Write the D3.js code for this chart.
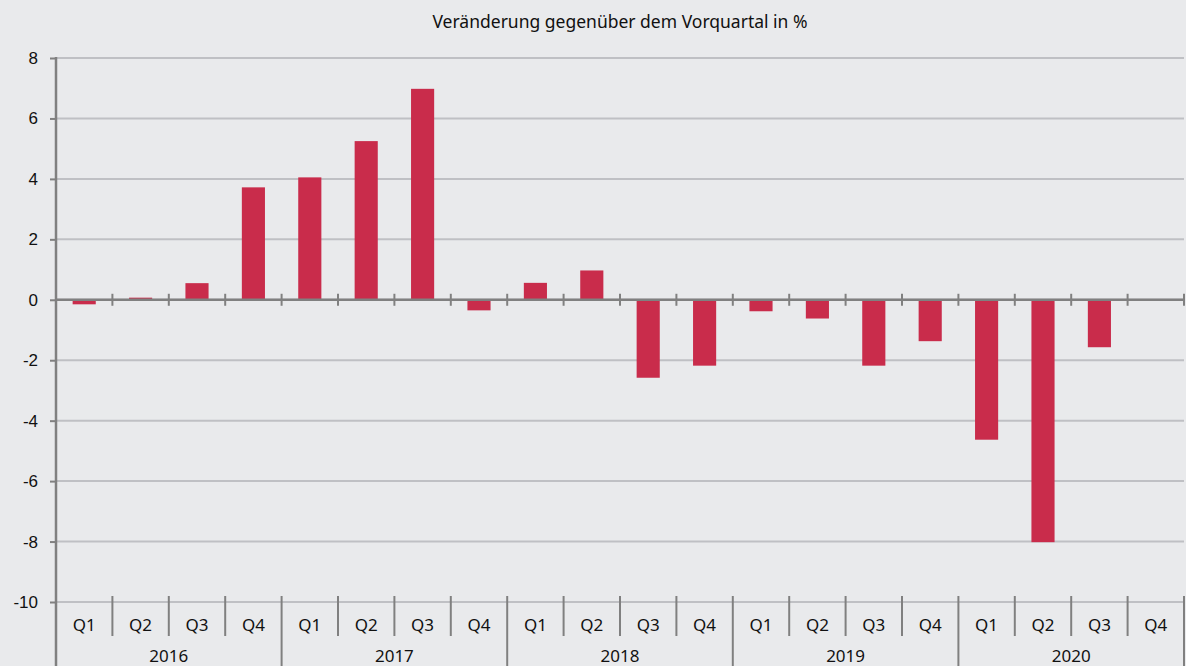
<!DOCTYPE html>
<html>
<head>
<meta charset="utf-8">
<script src="https://cdn.jsdelivr.net/npm/d3@7"></script>
<style>
  body { margin: 0; background: #e9eaec; }
  svg { display: block; font-family: "Noto Sans", "Open Sans", sans-serif; }
</style>
</head>
<body>
<svg id="chart"></svg>
<script>
const years = ["2016", "2017", "2018", "2019", "2020"];
const quarters = ["Q1", "Q2", "Q3", "Q4"];
const values = [
  -0.15, 0.07, 0.55, 3.72,
  4.05, 5.25, 6.98, -0.35,
  0.56, 0.97, -2.58, -2.18,
  -0.38, -0.62, -2.18, -1.37,
  -4.63, -8.02, -1.57, null
];
const yTicks = [8, 6, 4, 2, 0, -2, -4, -6, -8, -10];
const title = "Veränderung gegenüber dem Vorquartal in %";

const W = 1186, H = 666;
const m = { left: 56, right: 2, top: 58, bottom: 64 };

const svg = d3.select("#chart").attr("width", W).attr("height", H);
svg.append("rect").attr("width", W).attr("height", H).attr("fill", "#e9eaec");

// one entry per quarter
const cats = [];
years.forEach(y => quarters.forEach(q => cats.push({ year: y, q: q, key: y + q })));
cats.forEach((c, i) => c.value = values[i]);

const x = d3.scaleBand()
  .domain(cats.map(c => c.key))
  .range([m.left, W - m.right])
  .paddingInner(0).paddingOuter(0);

const y = d3.scaleLinear()
  .domain([-10, 8])
  .range([H - m.bottom, m.top]);

// gridlines
svg.append("g")
  .selectAll("line")
  .data(yTicks)
  .join("line")
    .attr("x1", m.left).attr("x2", W - m.right)
    .attr("y1", d => y(d)).attr("y2", d => y(d))
    .attr("stroke", "#bfc0c4")
    .attr("stroke-width", 2);

// bars
const bw = x.bandwidth() * 0.41;
svg.append("g")
  .selectAll("rect")
  .data(cats.filter(c => c.value != null))
  .join("rect")
    .attr("x", d => x(d.key) + (x.bandwidth() - bw) / 2)
    .attr("width", bw)
    .attr("y", d => y(Math.max(0, d.value)))
    .attr("height", d => Math.abs(y(d.value) - y(0)))
    .attr("fill", "#c92c4b");

// zero line with tick marks at category boundaries
svg.append("line")
  .attr("x1", m.left).attr("x2", W - m.right)
  .attr("y1", y(0)).attr("y2", y(0))
  .attr("stroke", "#808080").attr("stroke-width", 2.5);
svg.append("g")
  .selectAll("line")
  .data(cats.slice(1).map(c => x(c.key)).concat([W - m.right]))
  .join("line")
    .attr("x1", d => d).attr("x2", d => d)
    .attr("y1", y(0) - 6).attr("y2", y(0) + 6)
    .attr("stroke", "#808080").attr("stroke-width", 2);

// y axis
const yAxis = d3.axisLeft(y).tickValues(yTicks).tickSize(6).tickPadding(12).tickFormat(d3.format("d"));
const gy = svg.append("g")
  .attr("transform", `translate(${m.left},0)`)
  .call(yAxis);
gy.select(".domain").remove();
gy.selectAll(".tick line").attr("stroke", "#808080").attr("stroke-width", 2);
gy.selectAll(".tick text").attr("fill", "#111").attr("font-size", 17).text(d => d < 0 ? "-" + Math.abs(d) : d);
svg.append("line")
  .attr("x1", m.left).attr("x2", m.left)
  .attr("y1", y(8) - 1).attr("y2", H)
  .attr("stroke", "#808080").attr("stroke-width", 2.5);

// category axis: quarter separators and labels
const yBase = y(-10);
svg.append("g")
  .selectAll("line")
  .data(cats.filter(c => c.q !== "Q1"))
  .join("line")
    .attr("x1", d => x(d.key)).attr("x2", d => x(d.key))
    .attr("y1", yBase - 6).attr("y2", yBase + 34)
    .attr("stroke", "#808080").attr("stroke-width", 2);

svg.append("g")
  .selectAll("text")
  .data(cats)
  .join("text")
    .attr("x", d => x(d.key) + x.bandwidth() / 2)
    .attr("y", yBase + 29)
    .attr("text-anchor", "middle")
    .attr("font-size", 17)
    .attr("fill", "#111")
    .text(d => d.q);

// year separators and labels
const yearBounds = years.map(yr => x(yr + "Q1")).concat([W - m.right]);
svg.append("g")
  .selectAll("line")
  .data(yearBounds.slice(1))
  .join("line")
    .attr("x1", d => d).attr("x2", d => d)
    .attr("y1", yBase - 6).attr("y2", H)
    .attr("stroke", "#808080").attr("stroke-width", 2);

svg.append("g")
  .selectAll("text")
  .data(years)
  .join("text")
    .attr("x", d => x(d + "Q1") + x.bandwidth() * 2)
    .attr("y", yBase + 60)
    .attr("text-anchor", "middle")
    .attr("font-size", 17)
    .attr("fill", "#111")
    .text(d => d);

// title
svg.append("text")
  .attr("x", 620)
  .attr("y", 28)
  .attr("text-anchor", "middle")
  .attr("font-size", 17.5)
  .attr("fill", "#111")
  .text(title);
</script>
</body>
</html>
